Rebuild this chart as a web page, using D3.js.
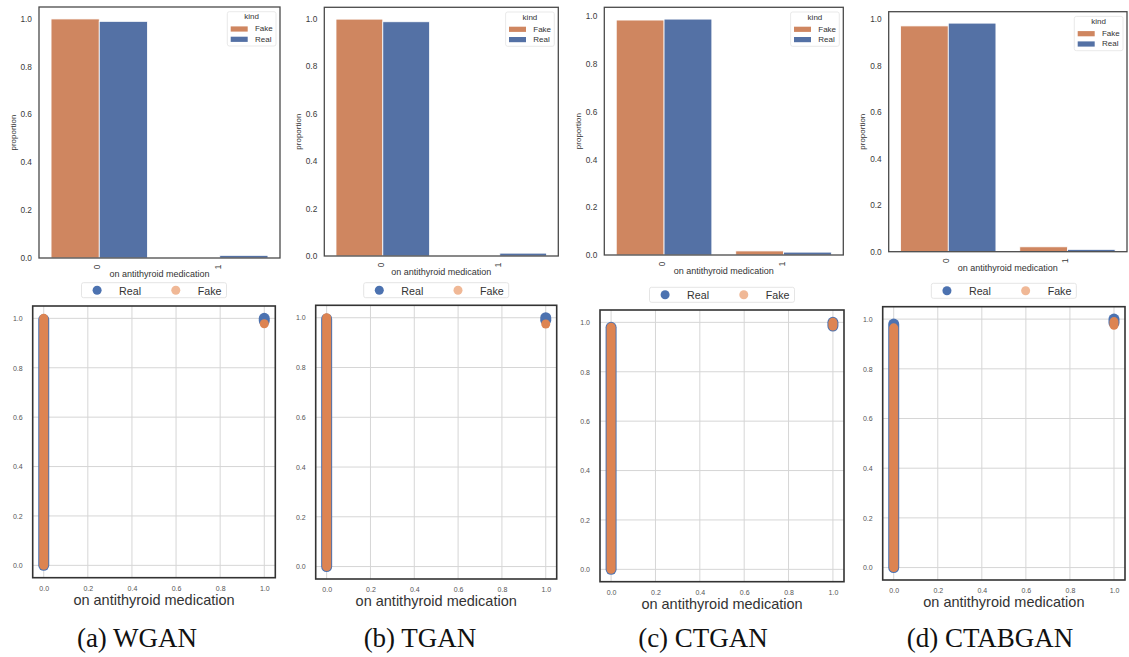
<!DOCTYPE html>
<html>
<head>
<meta charset="utf-8">
<script src="https://cdn.jsdelivr.net/npm/d3@7/dist/d3.min.js"></script>
<style>
  html, body { margin: 0; padding: 0; background: #fff; }
  svg { display: block; }
  text { font-family: "Liberation Sans", Arial, sans-serif; }
  text.caption { font-family: "Liberation Serif", "Times New Roman", serif; }
</style>
</head>
<body>
<svg id="fig" width="1129" height="657"></svg>
<script>
// ---- data -------------------------------------------------------------
const models = ["WGAN", "TGAN", "CTGAN", "CTABGAN"];
const captions = ["(a) WGAN", "(b) TGAN", "(c) CTGAN", "(d) CTABGAN"];
const categories = ["0", "1"];
const kinds = ["Fake", "Real"];
const featureName = "on antithyroid medication";

// proportion of each category (0, 1) per model
const fakeProportion = [
  [0.998, 0.002],
  [0.998, 0.002],
  [0.983, 0.017],
  [0.971, 0.021]
];
const realProportion = [
  [0.988, 0.011],
  [0.987, 0.012],
  [0.987, 0.012],
  [0.983, 0.010]
];

// scatter runs: [x, lowest y, highest y] of overlapping points
const realScatter = [
  [[0, 0, 0.995], [1, 0.99, 1.0]],
  [[0, 0, 0.995], [1, 0.99, 1.0]],
  [[0, 0, 0.98], [1, 0.985, 1.0]],
  [[0, 0, 0.98], [1, 0.985, 1.0]]
];
const fakeScatter = [
  [[0, 0, 1.0], [1, 0.978, 0.978]],
  [[0, 0, 1.0], [1, 0.975, 0.975]],
  [[0, 0, 0.98], [1, 0.985, 1.0]],
  [[0, 0, 0.965], [1, 0.975, 0.99]]
];

const barTicks = [0, 0.2, 0.4, 0.6, 0.8, 1.0];
const scatterTicks = [0, 0.2, 0.4, 0.6, 0.8, 1.0];

// ---- layout -----------------------------------------------------------
const barFrames = [
  { l: 39, t: 7, r: 280, b: 258 },
  { l: 324.3, t: 7.3, r: 558.3, b: 256 },
  { l: 604.3, t: 7.3, r: 843.3, b: 255 },
  { l: 888.7, t: 11.7, r: 1127, b: 251.7 }
];
const scatterFrames = [
  { l: 32.7, t: 306, r: 275.3, b: 577.7, lt: 282.7 },
  { l: 315.7, t: 305.3, r: 556.7, b: 579, lt: 282.7 },
  { l: 600, t: 310, r: 844, b: 581.7, lt: 287.3 },
  { l: 882.7, t: 306.7, r: 1125, b: 580, lt: 283.3 }
];
const captionX = [137, 420, 703, 990];

const barColor = { Fake: "#cf8660", Real: "#5471a5" };
const dotColor = { Fake: "#dd8452", Real: "#4c72b0" };
const legendDot = { Fake: "#f0b896", Real: "#4c72b0" };

const svg = d3.select("#fig");
const fmt = d3.format(".1f");

// ---- bar panels -------------------------------------------------------
models.forEach((m, i) => {
  const f = barFrames[i];
  const g = svg.append("g").attr("class", "bars-" + m);
  const rows = categories.map((c, j) => ({
    cat: c,
    Fake: fakeProportion[i][j],
    Real: realProportion[i][j]
  }));
  const maxV = d3.max(rows, d => Math.max(d.Fake, d.Real));

  const x = d3.scaleBand().domain(categories).range([f.l, f.r])
    .paddingInner(0.2).paddingOuter(0.1);
  const xs = d3.scaleBand().domain(kinds).range([0, x.bandwidth()]);
  const y = d3.scaleLinear().domain([0, maxV * 1.05]).range([f.b, f.t]);

  // bars
  g.selectAll("g.cat").data(rows).join("g")
    .attr("transform", d => `translate(${x(d.cat)},0)`)
    .selectAll("rect").data(d => kinds.map(k => ({ k, v: d[k] }))).join("rect")
    .attr("x", d => xs(d.k))
    .attr("width", xs.bandwidth())
    .attr("y", d => y(d.v))
    .attr("height", d => y(0) - y(d.v))
    .attr("fill", d => barColor[d.k])
    .attr("stroke", "#fff")
    .attr("stroke-width", 0.8);

  // y axis labels
  const ya = g.append("g").attr("transform", `translate(${f.l},0)`)
    .call(d3.axisLeft(y).tickValues(barTicks).tickFormat(fmt).tickSize(0).tickPadding(7));
  ya.select(".domain").remove();
  ya.selectAll("text").attr("font-size", 8.3).attr("fill", "#3a3a3a");

  // x tick labels (rotated)
  g.selectAll("text.xt").data(categories).join("text")
    .attr("class", "xt")
    .attr("transform", d => `translate(${x(d) + x.bandwidth() / 2 - 2},${f.b + 9}) rotate(-90)`)
    .attr("text-anchor", "middle")
    .attr("dominant-baseline", "central")
    .attr("font-size", 8.3).attr("fill", "#3a3a3a")
    .text(d => d);

  // axis titles
  g.append("text")
    .attr("x", (f.l + f.r) / 2).attr("y", f.b + 19)
    .attr("text-anchor", "middle").attr("font-size", 9).attr("fill", "#333")
    .text(featureName);
  g.append("text")
    .attr("transform", `translate(${f.l - 26},${(f.t + f.b) / 2}) rotate(-90)`)
    .attr("text-anchor", "middle").attr("dominant-baseline", "central")
    .attr("font-size", 8).attr("fill", "#333")
    .text("proportion");

  // frame
  g.append("rect")
    .attr("x", f.l).attr("y", f.t).attr("width", f.r - f.l).attr("height", f.b - f.t)
    .attr("fill", "none").attr("stroke", "#4a4a4a").attr("stroke-width", 1.3);

  // legend
  const lw = 48.7, lh = 34.3;
  const lx = f.r - 4 - lw, ly = f.t + 4.7;
  const lg = g.append("g").attr("transform", `translate(${lx},${ly})`);
  lg.append("rect").attr("width", lw).attr("height", lh).attr("rx", 2)
    .attr("fill", "#fff").attr("stroke", "#e3e3e3").attr("stroke-width", 0.8);
  lg.append("text").attr("x", lw / 2).attr("y", 5.3)
    .attr("text-anchor", "middle").attr("dominant-baseline", "central")
    .attr("font-size", 8).attr("fill", "#333").text("kind");
  kinds.forEach((k, j) => {
    const cy = 17.3 + j * 10.3;
    lg.append("rect").attr("x", 3.4).attr("y", cy - 2.6).attr("width", 17).attr("height", 5.2)
      .attr("fill", barColor[k]);
    lg.append("text").attr("x", 27.7).attr("y", cy)
      .attr("dominant-baseline", "central")
      .attr("font-size", 8).attr("fill", "#333").text(k);
  });
});

// ---- scatter panels ---------------------------------------------------
models.forEach((m, i) => {
  const f = scatterFrames[i];
  const g = svg.append("g").attr("class", "scatter-" + m);
  const x = d3.scaleLinear().domain([-0.05, 1.05]).range([f.l, f.r]);
  const y = d3.scaleLinear().domain([-0.05, 1.05]).range([f.b, f.t]);

  // grid
  g.append("g").selectAll("line").data(scatterTicks).join("line")
    .attr("x1", d => x(d)).attr("x2", d => x(d)).attr("y1", f.t).attr("y2", f.b)
    .attr("stroke", "#d6d6d6").attr("stroke-width", 1);
  g.append("g").selectAll("line").data(scatterTicks).join("line")
    .attr("y1", d => y(d)).attr("y2", d => y(d)).attr("x1", f.l).attr("x2", f.r)
    .attr("stroke", "#d6d6d6").attr("stroke-width", 1);

  // points: real underneath, fake on top
  const drawRuns = (runs, color, w) => {
    g.append("g").selectAll("line").data(runs).join("line")
      .attr("x1", d => x(d[0])).attr("x2", d => x(d[0]))
      .attr("y1", d => y(d[1])).attr("y2", d => y(d[2]))
      .attr("stroke", color).attr("stroke-width", w)
      .attr("stroke-linecap", "round");
  };
  drawRuns(realScatter[i], dotColor.Real, 11);
  drawRuns(fakeScatter[i], dotColor.Fake, 9);

  // axes labels
  const xa = g.append("g").attr("transform", `translate(0,${f.b})`)
    .call(d3.axisBottom(x).tickValues(scatterTicks).tickFormat(fmt).tickSize(0).tickPadding(8));
  xa.select(".domain").remove();
  const ya = g.append("g").attr("transform", `translate(${f.l},0)`)
    .call(d3.axisLeft(y).tickValues(scatterTicks).tickFormat(fmt).tickSize(0).tickPadding(10));
  ya.select(".domain").remove();
  g.selectAll(".tick text").attr("font-size", 7).attr("fill", "#555");

  g.append("text")
    .attr("x", (f.l + f.r) / 2).attr("y", f.b + 22)
    .attr("text-anchor", "middle").attr("dominant-baseline", "central")
    .attr("font-size", 14.5).attr("fill", "#333")
    .text(featureName);

  // frame
  g.append("rect")
    .attr("x", f.l).attr("y", f.t).attr("width", f.r - f.l).attr("height", f.b - f.t)
    .attr("fill", "none").attr("stroke", "#333").attr("stroke-width", 1.6);

  // legend above the frame
  const lw = 145, lh = 15;
  const lx = (f.l + f.r) / 2 - lw / 2;
  const lg = g.append("g").attr("transform", `translate(${lx},${f.lt})`);
  lg.append("rect").attr("width", lw).attr("height", lh).attr("rx", 2)
    .attr("fill", "#fff").attr("stroke", "#e2e2e2").attr("stroke-width", 0.9);
  ["Real", "Fake"].forEach((k, j) => {
    const ox = j * 78.7;
    lg.append("circle").attr("cx", 15.6 + ox).attr("cy", lh / 2).attr("r", 4.5)
      .attr("fill", legendDot[k]);
    lg.append("text").attr("x", 37.6 + ox).attr("y", lh / 2 + 0.5)
      .attr("dominant-baseline", "central")
      .attr("font-size", 10.7).attr("fill", "#333").text(k);
  });
});

// ---- captions ---------------------------------------------------------
svg.selectAll("text.caption").data(captions).join("text")
  .attr("class", "caption")
  .attr("x", (d, i) => captionX[i]).attr("y", 647)
  .attr("text-anchor", "middle")
  .attr("font-size", 27).attr("fill", "#111")
  .text(d => d);
</script>
</body>
</html>
